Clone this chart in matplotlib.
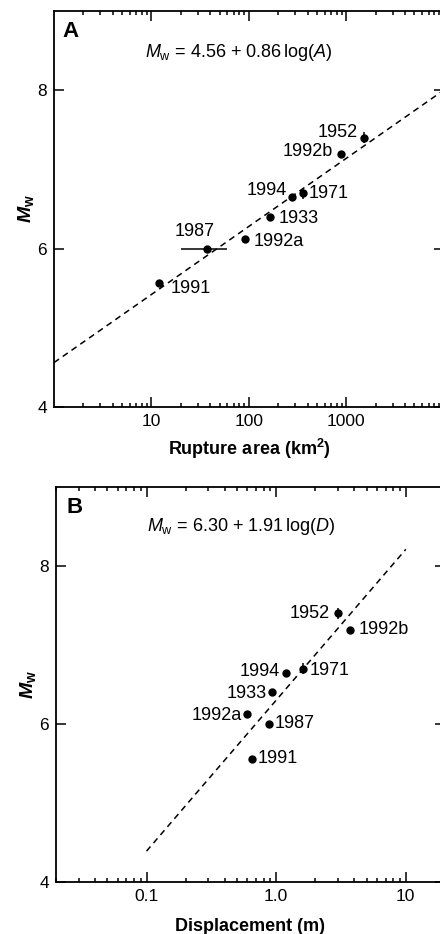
import numpy as np
import matplotlib
matplotlib.use('Agg')
import matplotlib.pyplot as plt
from matplotlib.ticker import LogLocator, FixedLocator, FixedFormatter, NullFormatter

plt.rcParams['font.family'] = ['Liberation Sans', 'DejaVu Sans']
plt.rcParams['mathtext.fontset'] = 'custom'
plt.rcParams['mathtext.rm'] = 'Liberation Sans'
plt.rcParams['mathtext.it'] = 'Liberation Sans:italic'
plt.rcParams['mathtext.bf'] = 'Liberation Sans:bold'
plt.rcParams['mathtext.bfit'] = 'Liberation Sans:italic:bold'

# earthquake labels
events = ['1952', '1992b', '1994', '1971', '1933', '1992a', '1987', '1991']
mw = [7.40, 7.19, 6.65, 6.70, 6.40, 6.12, 6.00, 5.56]
mw_err = [0.07, 0, 0, 0.07, 0, 0, 0, 0]

# panel A: rupture area (km2)
area = [1500, 880, 280, 360, 165, 91, 37, 12]
area_lo = [0, 0, 0, 0, 0, 0, 17, 0]
area_hi = [0, 0, 0, 0, 0, 0, 23, 0]

# panel B: displacement (m)
disp = [3.0, 3.7, 1.2, 1.6, 0.93, 0.60, 0.88, 0.65]

# regression lines
fit_a = (4.56, 0.86)
fit_b = (6.30, 1.91)
line_a_x = [1, 10000]
line_b_x = [0.1, 10]

# label offsets in points (dx, dy, ha)
offs_a = [(-4, 4, 'right'), (-6, 2, 'right'), (-4, 5, 'right'), (4, 0, 'left'),
          (6, -1, 'left'), (6, -2, 'left'), (-9, 12, 'center'), (8, -4, 'left')]
offs_b = [(-6, 0, 'right'), (6, 0, 'left'), (-5, 1, 'right'), (5, -1, 'left'),
          (-4, -1, 'right'), (-4, -1, 'right'), (4, 0, 'left'), (4, 0, 'left')]

fs = 13

fig = plt.figure(figsize=(4.4, 9.34), dpi=100)
ax_a = fig.add_axes([0.1227, 0.5643, 0.886, 0.424])
ax_b = fig.add_axes([0.127, 0.0557, 0.884, 0.423])


def style(ax):
    ax.set_xscale('log')
    ax.set_ylim(4, 9)
    ax.yaxis.set_major_locator(FixedLocator([4, 6, 8]))
    ax.tick_params(which='both', direction='in', top=True, right=True,
                   labelsize=12.5, width=1.1, pad=5)
    ax.tick_params(which='major', length=7)
    ax.tick_params(which='minor', length=3)
    ax.xaxis.set_minor_locator(LogLocator(base=10, subs=np.arange(2, 10)))
    ax.xaxis.set_minor_formatter(NullFormatter())
    for s in ax.spines.values():
        s.set_linewidth(1.3)
    ax.set_ylabel(r'$\mathbfit{M}_{\mathbf{w}}$', fontsize=14, labelpad=1)


# panel A
style(ax_a)
ax_a.set_xlim(1, 10000)
ax_a.xaxis.set_major_locator(FixedLocator([10, 100, 1000]))
ax_a.xaxis.set_major_formatter(FixedFormatter(['10', '100', '1000']))
xa = np.array(line_a_x, dtype=float)
ax_a.plot(xa, fit_a[0] + fit_a[1] * np.log10(xa), 'k--', lw=1.1, dashes=(4, 3))
ax_a.errorbar(area, mw, yerr=mw_err, xerr=[area_lo, area_hi], fmt='o', color='k',
              ms=5, elinewidth=1.1, capsize=0)
for name, x, y, (dx, dy, ha) in zip(events, area, mw, offs_a):
    ax_a.annotate(name, (x, y), xytext=(dx, dy), textcoords='offset points',
                  ha=ha, va='center', fontsize=fs)
ax_a.text(0.022, 0.947, 'A', transform=ax_a.transAxes, fontsize=16,
          fontweight='bold', va='center')
ax_a.text(0.233, 0.896, r'$M_{\mathrm{w}}$ = 4.56 + 0.86$\,$log($A$)',
          transform=ax_a.transAxes, fontsize=fs, va='center')
ax_a.set_xlabel(r'Rupture area (km$^{\mathbf{2}}$)', fontsize=fs,
                fontweight='bold', labelpad=6)

# panel B
style(ax_b)
ax_b.set_xlim(0.02, 20)
ax_b.xaxis.set_major_locator(FixedLocator([0.1, 1.0, 10]))
ax_b.xaxis.set_major_formatter(FixedFormatter(['0.1', '1.0', '10']))
xb = np.array(line_b_x, dtype=float)
ax_b.plot(xb, fit_b[0] + fit_b[1] * np.log10(xb), 'k--', lw=1.1, dashes=(4, 3))
ax_b.errorbar(disp, mw, yerr=mw_err, fmt='o', color='k', ms=5,
              elinewidth=1.1, capsize=0)
for name, x, y, (dx, dy, ha) in zip(events, disp, mw, offs_b):
    ax_b.annotate(name, (x, y), xytext=(dx, dy), textcoords='offset points',
                  ha=ha, va='center', fontsize=fs)
ax_b.text(0.028, 0.947, 'B', transform=ax_b.transAxes, fontsize=16,
          fontweight='bold', va='center')
ax_b.text(0.235, 0.899, r'$M_{\mathrm{w}}$ = 6.30 + 1.91$\,$log($D$)',
          transform=ax_b.transAxes, fontsize=fs, va='center')
ax_b.set_xlabel('Displacement (m)', fontsize=fs, fontweight='bold', labelpad=10)

fig.savefig('out.png', dpi=100)
